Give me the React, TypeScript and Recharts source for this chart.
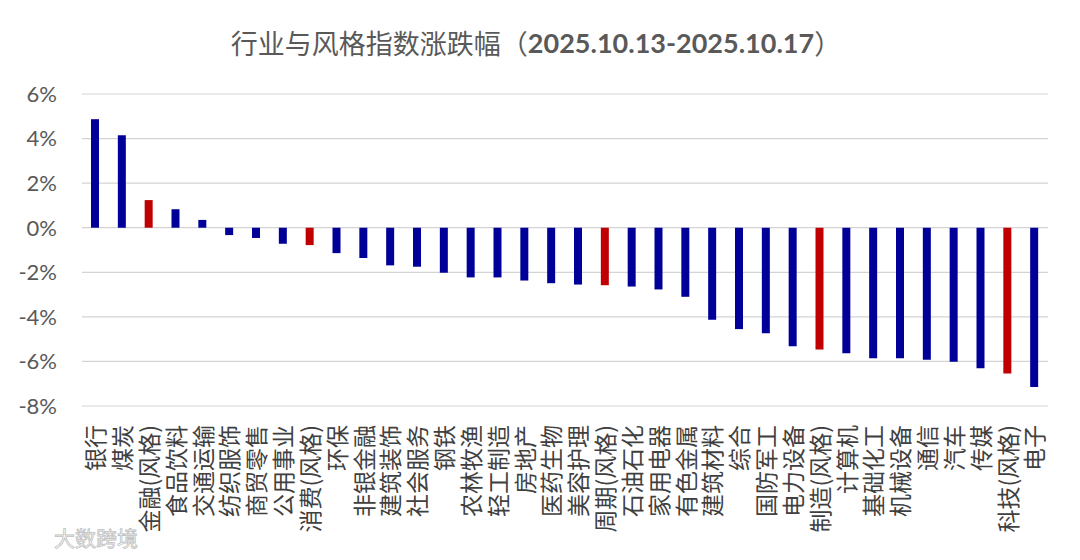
import React from 'react';
import { BarChart, Bar, XAxis, YAxis, CartesianGrid, Cell } from 'recharts';

const categories = [
  '银行', '煤炭', '金融(风格)', '食品饮料', '交通运输', '纺织服饰', '商贸零售', '公用事业', '消费(风格)',
  '环保', '非银金融', '建筑装饰', '社会服务', '钢铁', '农林牧渔', '轻工制造', '房地产', '医药生物',
  '美容护理', '周期(风格)', '石油石化', '家用电器', '有色金属', '建筑材料', '综合', '国防军工',
  '电力设备', '制造(风格)', '计算机', '基础化工', '机械设备', '通信', '汽车', '传媒', '科技(风格)', '电子',
];

const changes = [
  4.87, 4.15, 1.24, 0.83, 0.35, -0.33, -0.46, -0.72, -0.78,
  -1.14, -1.36, -1.69, -1.75, -2.02, -2.23, -2.23, -2.37, -2.49,
  -2.55, -2.58, -2.64, -2.77, -3.10, -4.13, -4.55, -4.73,
  -5.32, -5.47, -5.63, -5.86, -5.86, -5.93, -6.02, -6.31, -6.54, -7.15,
];

const styleCategories = ['金融(风格)', '消费(风格)', '周期(风格)', '制造(风格)', '科技(风格)'];

const yTicks = [-8, -6, -4, -2, 0, 2, 4, 6];

const titleMain = '行业与风格指数涨跌幅（';
const titleDates = '2025.10.13-2025.10.17';
const titleEnd = '）';

const industryColor = '#000099';
const styleColor = '#C00000';

const data = categories.map((name, i) => ({ name, value: changes[i] }));

const XTick = (props: any) => {
  const { x, y, payload } = props;
  return (
    <text
      transform={`translate(${x},${y + 11}) rotate(-90)`}
      textAnchor="end"
      dy="0.38em"
      fontFamily="'Noto Sans CJK SC', sans-serif"
      fontSize={23}
      fill="#404040"
    >
      {payload.value}
    </text>
  );
};

export default function App() {
  return (
    <div style={{ position: 'absolute', left: 0, top: 0, width: 1080, height: 560, background: '#fff' }}>
      <BarChart
        width={1080}
        height={560}
        data={data}
        margin={{ top: 94, right: 32, bottom: 0, left: 0 }}
        barCategoryGap={0}
      >
        <text
          x={536}
          y={42}
          textAnchor="middle"
          dominantBaseline="central"
          fill="#595959"
          fontSize={27}
          fontFamily="'Noto Sans CJK SC', sans-serif"
        >
          {titleMain}
          <tspan fontFamily="Lato, sans-serif" fontWeight="bold">{titleDates}</tspan>
          {titleEnd}
        </text>
        <CartesianGrid vertical={false} stroke="#D4D4D4" strokeWidth={1.2} />
        <XAxis
          dataKey="name"
          axisLine={false}
          tickLine={false}
          interval={0}
          height={154}
          tick={<XTick />}
        />
        <YAxis
          width={82}
          domain={[-8, 6]}
          ticks={yTicks}
          axisLine={false}
          tickLine={false}
          tickMargin={19}
          tickFormatter={(v: number) => `${v}%`}
          tick={{ fill: '#595959', fontSize: 22, fontFamily: 'Lato, sans-serif' }}
        />
        <Bar dataKey="value" barSize={8} isAnimationActive={false}>
          {data.map((d) => (
            <Cell key={d.name} fill={styleCategories.includes(d.name) ? styleColor : industryColor} />
          ))}
        </Bar>
        <text
          x={54}
          y={546}
          fontSize={21}
          fontFamily="'Noto Sans CJK SC', sans-serif"
          fill="#ffffff"
          stroke="#c0c0c0"
          strokeWidth={0.8}
        >
          大数跨境
        </text>
      </BarChart>
    </div>
  );
}
